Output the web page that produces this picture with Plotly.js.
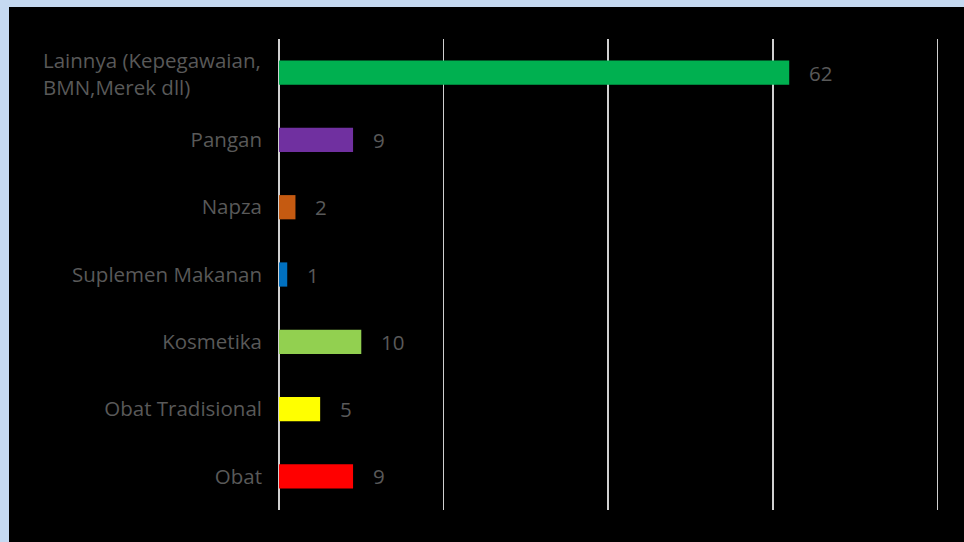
<!DOCTYPE html>
<html>
<head>
<meta charset="utf-8">
<script src="https://cdn.plot.ly/plotly-3.0.1.min.js"></script>
<style>
html,body{margin:0;padding:0;background:#c5d9f1;width:964px;height:542px;overflow:hidden;}
#chart{position:absolute;left:9px;top:7px;width:955px;height:535px;}
</style>
</head>
<body>
<div id="chart"></div>
<script>
const categories = ["Obat", "Obat Tradisional", "Kosmetika", "Suplemen Makanan", "Napza", "Pangan", "Lainnya (Kepegawaian,<br>BMN,Merek dll)"];
const values = [9, 5, 10, 1, 2, 9, 62];
const colors = ["#ff0000", "#ffff00", "#92d050", "#0070c0", "#c55a11", "#7030a0", "#00b050"];
const tickLabels = ["Obat", "Obat Tradisional", "Kosmetika", "Suplemen Makanan", "Napza", "Pangan", ""];

const fontFam = "Open Sans, Noto Sans, sans-serif";
const textColor = "#595959";
const fs = 20.5;

const trace = {
  type: "bar",
  orientation: "h",
  x: values,
  y: categories,
  marker: {color: colors},
  hoverinfo: "none"
};

const annotations = values.map((v, i) => ({
  x: v, y: categories[i], xref: "x", yref: "y",
  text: String(v), showarrow: false, xanchor: "left", xshift: 18,
  font: {family: fontFam, size: fs, color: textColor}
}));
annotations.push({
  x: 0, y: categories[6], xref: "paper", yref: "y",
  text: categories[6], showarrow: false, xanchor: "right", align: "left",
  xshift: -16, yshift: -1,
  font: {family: fontFam, size: fs, color: textColor}
});

const layout = {
  width: 955, height: 535,
  paper_bgcolor: "#000000", plot_bgcolor: "#000000",
  margin: {l: 270, r: 25, t: 32, b: 32},
  bargap: 0.64,
  showlegend: false,
  xaxis: {
    range: [0, 80.2], tickvals: [0, 20, 40, 60, 80], showticklabels: false,
    showgrid: true, gridcolor: "#d0d0d0", gridwidth: 1.5,
    zeroline: true, zerolinecolor: "#d0d0d0", zerolinewidth: 1.5,
    showline: false, fixedrange: true
  },
  yaxis: {
    type: "category", categoryorder: "array", categoryarray: categories,
    tickmode: "array", tickvals: categories, ticktext: tickLabels,
    ticks: "", ticklabelstandoff: 16, showgrid: false, zeroline: false,
    tickfont: {family: fontFam, size: fs, color: textColor}
  },
  annotations: annotations
};

Plotly.newPlot("chart", [trace], layout, {displayModeBar: false, staticPlot: true});
</script>
</body>
</html>
